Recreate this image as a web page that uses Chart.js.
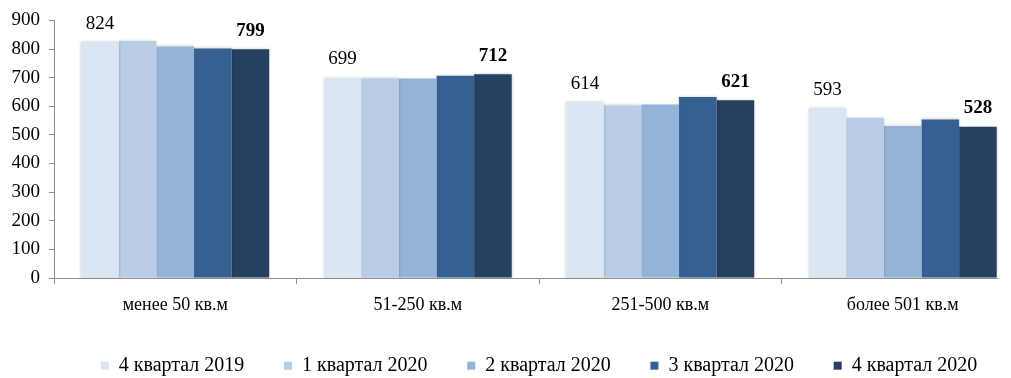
<!DOCTYPE html>
<html lang="ru">
<head>
<meta charset="utf-8">
<title>Средняя стоимость по площади</title>
<script src="https://cdn.jsdelivr.net/npm/chart.js@4.4.1/dist/chart.umd.min.js"></script>
<style>
  html, body { margin: 0; padding: 0; background: #ffffff; }
  #frame { width: 998px; height: 378px; overflow: hidden; position: relative; }
  canvas { display: block; }
</style>
</head>
<body>
<div id="frame"><canvas id="chart" width="1024" height="378"></canvas></div>
<script>
// Area groups along the x axis
const categories = ['менее 50 кв.м', '51-250 кв.м', '251-500 кв.м', 'более 501 кв.м'];

// Quarters (one series per quarter)
const seriesNames = ['4 квартал 2019', '1 квартал 2020', '2 квартал 2020', '3 квартал 2020', '4 квартал 2020'];
const q4_2019 = [824, 699, 614, 593];
const q1_2020 = [828, 698, 603, 560];
const q2_2020 = [809, 697, 606, 531];
const q3_2020 = [802, 707, 632, 554];
const q4_2020 = [799, 712, 621, 528];

// Value axis ticks
const yTicks = [0, 100, 200, 300, 400, 500, 600, 700, 800, 900];

const seriesValues = [q4_2019, q1_2020, q2_2020, q3_2020, q4_2020];
const seriesColors = ['#dce6f2', '#b9cde5', '#95b3d7', '#366092', '#254061'];

const SERIF = "'Liberation Serif', 'Times New Roman', serif";
const AXIS_GREY = '#8c8c8c';

// Soft shadow behind the bars
const barShadow = {
  id: 'barShadow',
  beforeDatasetDraw(chart) {
    const ctx = chart.ctx;
    ctx.save();
    ctx.shadowColor = 'rgba(0,0,0,0.22)';
    ctx.shadowBlur = 3;
    ctx.shadowOffsetX = 0;
    ctx.shadowOffsetY = 0;
  },
  afterDatasetDraw(chart) {
    chart.ctx.restore();
  }
};

// Values above the first (regular) and last (bold) quarter
const valueLabels = {
  id: 'valueLabels',
  afterDatasetsDraw(chart) {
    const ctx = chart.ctx;
    const last = chart.data.datasets.length - 1;
    [0, last].forEach(di => {
      const meta = chart.getDatasetMeta(di);
      const ds = chart.data.datasets[di];
      ctx.save();
      ctx.fillStyle = '#000000';
      ctx.textAlign = 'center';
      ctx.textBaseline = 'alphabetic';
      ctx.font = (di === last ? 'bold ' : '') + '19px ' + SERIF;
      meta.data.forEach((bar, i) => {
        ctx.fillText(String(ds.data[i]), bar.x, bar.y - 13.5);
      });
      ctx.restore();
    });
  }
};

new Chart(document.getElementById('chart'), {
  type: 'bar',
  data: {
    labels: categories,
    datasets: seriesNames.map((name, i) => ({
      label: name,
      data: seriesValues[i],
      backgroundColor: seriesColors[i],
      borderWidth: 0,
      categoryPercentage: 0.775,
      barPercentage: 1.0
    }))
  },
  options: {
    responsive: false,
    animation: false,
    devicePixelRatio: 1,
    layout: { padding: { top: 20, left: 0, right: 0, bottom: 0 } },
    plugins: {
      tooltip: { enabled: false },
      legend: {
        position: 'bottom',
        align: 'center',
        fullSize: false,
        maxHeight: 62,
        labels: {
          boxWidth: 8,
          boxHeight: 8,
          padding: 39.7,
          color: '#000000',
          font: { family: SERIF, size: 20 }
        }
      }
    },
    scales: {
      x: {
        grid: {
          offset: true,
          drawOnChartArea: false,
          drawTicks: true,
          tickLength: 6,
          color: AXIS_GREY
        },
        border: { display: true, color: AXIS_GREY, width: 1 },
        ticks: {
          color: '#000000',
          padding: 10,
          maxRotation: 0,
          font: { family: SERIF, size: 18 }
        },
        afterFit(scale) { scale.height = 38; }
      },
      y: {
        min: 0,
        max: 900,
        afterBuildTicks(scale) { scale.ticks = yTicks.map(v => ({ value: v })); },
        grid: {
          drawOnChartArea: false,
          drawTicks: true,
          tickLength: 5,
          color: AXIS_GREY
        },
        border: { display: true, color: AXIS_GREY, width: 1 },
        ticks: {
          color: '#000000',
          padding: 9,
          autoSkip: false,
          font: { family: SERIF, size: 19 }
        },
        afterFit(scale) { scale.width = 54; }
      }
    }
  },
  plugins: [barShadow, valueLabels]
});
</script>
</body>
</html>
